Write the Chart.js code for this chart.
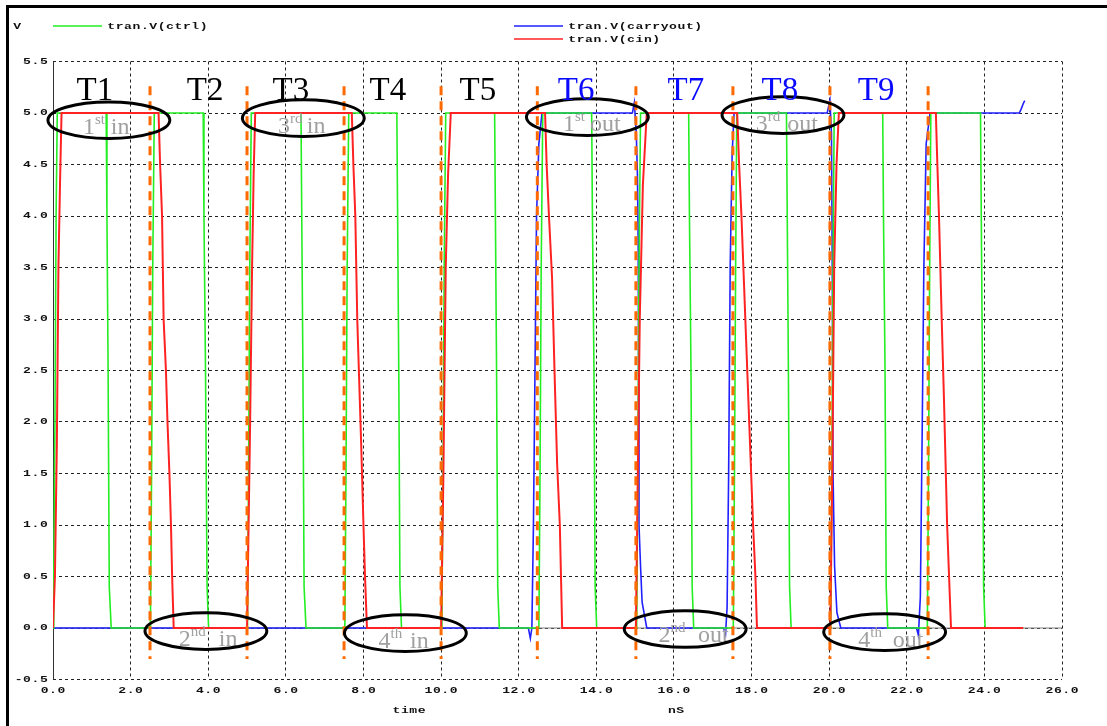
<!DOCTYPE html>
<html>
<head>
<meta charset="utf-8">
<script src="https://cdn.jsdelivr.net/npm/chart.js@4.4.1/dist/chart.umd.min.js"></script>
<style>
  html, body { margin: 0; padding: 0; background: #ffffff; }
  canvas { display: block; }
</style>
</head>
<body>
<canvas id="wave" width="1107" height="726"></canvas>
<script>
// ---- axis ticks ----
const xTicks = [0, 2, 4, 6, 8, 10, 12, 14, 16, 18, 20, 22, 24, 26];
const yTicks = [-0.5, 0, 0.5, 1, 1.5, 2, 2.5, 3, 3.5, 4, 4.5, 5, 5.5];
const xTitle = 'time';
const xUnit = 'nS';
const yUnit = 'V';

// ---- transient traces: [time (ns), volts] ----
const ctrlWave = [
  [0, 0], [0.02, 0.5], [0.05, 2.0], [0.08, 4.0], [0.11, 5],
  [1.37, 5], [1.39, 4.0], [1.42, 2.5], [1.45, 0.4], [1.5, 0],
  [2.51, 0], [2.54, 1.5], [2.57, 3.5], [2.61, 5],
  [3.87, 5], [3.89, 4.0], [3.93, 2.5], [3.97, 0.4], [4.01, 0],
  [5.01, 0], [5.04, 1.5], [5.07, 3.5], [5.11, 5],
  [6.39, 5], [6.41, 4.0], [6.44, 2.5], [6.47, 0.4], [6.52, 0],
  [7.52, 0], [7.55, 1.5], [7.58, 3.5], [7.62, 5],
  [8.86, 5], [8.88, 4.0], [8.91, 2.5], [8.94, 0.4], [8.98, 0],
  [10.02, 0], [10.05, 1.5], [10.08, 3.5], [10.12, 5],
  [11.38, 5], [11.4, 4.0], [11.43, 2.5], [11.46, 0.4], [11.5, 0],
  [12.52, 0], [12.55, 1.5], [12.58, 3.5], [12.62, 5],
  [13.88, 5], [13.9, 4.0], [13.94, 2.5], [13.97, 0.4], [14.01, 0],
  [15.04, 0], [15.07, 1.5], [15.1, 3.5], [15.14, 5],
  [16.38, 5], [16.4, 4.0], [16.44, 2.5], [16.47, 0.4], [16.51, 0],
  [17.53, 0], [17.56, 1.5], [17.59, 3.5], [17.62, 5],
  [18.9, 5], [18.92, 4.0], [18.95, 2.5], [18.98, 0.4], [19.02, 0],
  [20.04, 0], [20.07, 1.5], [20.1, 3.5], [20.13, 5],
  [21.38, 5], [21.4, 4.0], [21.44, 2.5], [21.47, 0.4], [21.51, 0],
  [22.53, 0], [22.56, 1.5], [22.59, 3.5], [22.62, 5],
  [23.9, 5], [23.92, 4.0], [23.95, 2.5], [23.98, 0.4], [24.02, 0],
  [25.0, 0]
];

const carryoutWave = [
  [0, 0], [12.25, 0], [12.3, -0.1], [12.34, 0], [12.38, 1.0], [12.42, 2.5], [12.46, 4.0], [12.52, 4.7], [12.6, 5],
  [14.93, 5], [14.98, 5.1], [15.03, 4.8], [15.06, 4.4], [15.08, 3.7], [15.1, 1.0], [15.14, 0.6], [15.18, 0.25], [15.3, 0],
  [17.28, 0], [17.33, -0.06], [17.37, 0.2], [17.41, 1.5], [17.45, 3.5], [17.5, 4.6], [17.55, 5],
  [19.95, 5], [20.02, 5.12], [20.06, 4.8], [20.08, 3.5], [20.1, 1.5], [20.14, 0.6], [20.2, 0.15], [20.3, 0],
  [22.25, 0], [22.3, -0.07], [22.35, 0.3], [22.4, 2.0], [22.44, 3.5], [22.5, 4.7], [22.6, 5],
  [24.9, 5], [24.95, 5.04], [25.0, 5.09], [25.04, 5.12]
];

const cinWave = [
  [0, 0], [0.05, 0.5], [0.1, 1.8], [0.14, 3.5], [0.18, 4.3], [0.22, 5],
  [2.72, 5], [2.76, 4.5], [2.81, 4.0], [2.85, 3.0], [2.91, 2.5], [2.95, 2.0], [3.0, 1.5], [3.04, 1.0], [3.07, 0.5], [3.11, 0],
  [5.0, 0], [5.08, 2.0], [5.13, 3.5], [5.17, 4.4], [5.21, 5],
  [7.7, 5], [7.74, 4.5], [7.79, 4.0], [7.84, 3.0], [7.89, 2.4], [7.94, 1.8], [8.0, 1.0], [8.04, 0.5], [8.09, 0],
  [10.0, 0], [10.06, 1.5], [10.12, 3.5], [10.18, 4.4], [10.25, 5],
  [12.68, 5], [12.72, 4.5], [12.78, 4.0], [12.86, 3.4], [12.93, 2.4], [12.99, 1.6], [13.06, 1.0], [13.09, 0.5], [13.12, 0],
  [15.02, 0], [15.06, 1.2], [15.12, 3.0], [15.2, 4.3], [15.3, 5],
  [17.63, 5], [17.68, 4.5], [17.74, 4.0], [17.8, 3.4], [17.88, 2.6], [17.96, 1.8], [18.04, 1.0], [18.1, 0.5], [18.14, 0],
  [20.03, 0], [20.08, 1.5], [20.13, 3.5], [20.19, 4.5], [20.25, 5],
  [22.75, 5], [22.78, 4.6], [22.83, 4.0], [22.9, 3.0], [22.96, 2.2], [23.0, 1.6], [23.04, 1.0], [23.09, 0.5], [23.14, 0],
  [25.0, 0]
];

const seriesNames = ['tran.V(ctrl)', 'tran.V(carryout)', 'tran.V(cin)'];

// ---- step markers and labels ----
const stepMarks = [2.5, 5.0, 7.5, 10.0, 12.48, 15.02, 17.52, 20.02, 22.55];
const stepLabels = ['T1', 'T2', 'T3', 'T4', 'T5', 'T6', 'T7', 'T8', 'T9'];
const ordinalLabels = [
  ['1', 'st', 'in'], ['2', 'nd', 'in'], ['3', 'rd', 'in'], ['4', 'th', 'in'],
  ['1', 'st', 'out'], ['2', 'nd', 'out'], ['3', 'rd', 'out'], ['4', 'th', 'out']
];

// ---- placement of the annotations (data units) ----
const layoutCfg = {
  stepLabelX: [1.08, 3.92, 6.13, 8.63, 10.95, 13.48, 16.31, 18.73, 21.21],
  stepLabelY: 5.13,
  stepLabelColor: ['#000000', '#000000', '#000000', '#000000', '#000000', '#0a0aff', '#0a0aff', '#0a0aff', '#0a0aff'],
  markTop: 5.26,
  markBottom: -0.3,
  ellipses: [
    { cx: 1.44, cy: 4.93 }, { cx: 3.94, cy: -0.03 }, { cx: 6.45, cy: 4.95 }, { cx: 9.08, cy: -0.05 },
    { cx: 13.77, cy: 4.96 }, { cx: 16.29, cy: -0.01 }, { cx: 18.81, cy: 4.98 }, { cx: 21.43, cy: -0.04 }
  ],
  ellipseRx: 1.57,
  ellipseRy: 0.178,
  ordinalPos: [
    { x: 0.77, wx: 1.49, y: 4.80 }, { x: 3.24, wx: 4.27, y: -0.17 }, { x: 5.80, wx: 6.54, y: 4.81 }, { x: 8.39, wx: 9.20, y: -0.19 },
    { x: 13.14, wx: 13.84, y: 4.83 }, { x: 15.60, wx: 16.62, y: -0.14 }, { x: 18.11, wx: 18.92, y: 4.83 }, { x: 20.75, wx: 21.64, y: -0.18 }
  ]
};

const toPoints = arr => arr.map(p => ({ x: p[0], y: p[1] }));
const zeroLine = [[0, 0], [26, 0]];

// PSpice-style wide monospace text, drawn one glyph per cell
function monoText(ctx, str, x, y, align) {
  const pitch = 8.4;
  const w = str.length * pitch;
  let x0 = x;
  if (align === 'center') x0 = x - w / 2;
  else if (align === 'right') x0 = x - w;
  ctx.save();
  ctx.font = 'bold 9px "Liberation Mono"';
  ctx.textAlign = 'center';
  ctx.textBaseline = 'middle';
  for (let i = 0; i < str.length; i++) {
    ctx.save();
    ctx.translate(x0 + pitch * (i + 0.5), y);
    ctx.scale(1.45, 1);
    ctx.fillText(str[i], 0, 0);
    ctx.restore();
  }
  ctx.restore();
}

const crisp = v => Math.floor(v) + 0.5;

const probePlugin = {
  id: 'probe',
  beforeDatasetsDraw(chart) {
    const { ctx, chartArea: a, scales: { x, y } } = chart;
    ctx.save();
    ctx.strokeStyle = '#222';
    ctx.lineWidth = 1;
    ctx.setLineDash([3, 3]);
    yTicks.forEach(v => {
      const py = crisp(y.getPixelForValue(v));
      ctx.beginPath(); ctx.moveTo(a.left, py); ctx.lineTo(a.right, py); ctx.stroke();
    });
    xTicks.forEach(t => {
      if (t === xTicks[0]) return;
      const px = crisp(x.getPixelForValue(t));
      ctx.beginPath(); ctx.moveTo(px, a.top); ctx.lineTo(px, a.bottom); ctx.stroke();
    });
    ctx.setLineDash([]);
    ctx.strokeStyle = '#333';
    const lx = crisp(a.left);
    ctx.beginPath(); ctx.moveTo(lx, a.top); ctx.lineTo(lx, a.bottom); ctx.stroke();
    ctx.restore();
  },
  afterDatasetsDraw(chart) {
    const { ctx, scales: { x, y } } = chart;
    const L = layoutCfg;
    ctx.save();
    // step markers
    ctx.strokeStyle = '#ff6a00';
    ctx.lineWidth = 3;
    ctx.setLineDash([9, 6]);
    stepMarks.forEach(t => {
      const px = x.getPixelForValue(t);
      ctx.beginPath();
      ctx.moveTo(px, y.getPixelForValue(L.markTop));
      ctx.lineTo(px, y.getPixelForValue(L.markBottom));
      ctx.stroke();
    });
    ctx.setLineDash([]);
    // ordinal captions
    ordinalLabels.forEach((lab, i) => {
      const p = L.ordinalPos[i];
      const px = x.getPixelForValue(p.x), wx = x.getPixelForValue(p.wx), py = y.getPixelForValue(p.y);
      ctx.fillStyle = '#a0a0a0';
      ctx.textAlign = 'left';
      ctx.textBaseline = 'alphabetic';
      ctx.font = '24px "Liberation Serif"';
      ctx.fillText(lab[0], px, py);
      const dw = ctx.measureText(lab[0]).width;
      ctx.font = '15px "Liberation Serif"';
      ctx.fillText(lab[1], px + dw, py - 10);
      ctx.font = '24px "Liberation Serif"';
      ctx.fillText(lab[2], wx, py);
    });
    // ellipses
    ctx.strokeStyle = '#000';
    ctx.lineWidth = 3;
    L.ellipses.forEach(e => {
      const cx = x.getPixelForValue(e.cx), cy = y.getPixelForValue(e.cy);
      const rx = x.getPixelForValue(e.cx + L.ellipseRx) - cx;
      const ry = cy - y.getPixelForValue(e.cy + L.ellipseRy);
      ctx.beginPath();
      ctx.ellipse(cx, cy, rx, ry, 0, 0, Math.PI * 2);
      ctx.stroke();
    });
    // step labels
    ctx.font = '33px "Liberation Serif"';
    ctx.textAlign = 'center';
    ctx.textBaseline = 'alphabetic';
    stepLabels.forEach((s, i) => {
      ctx.fillStyle = L.stepLabelColor[i];
      ctx.fillText(s, x.getPixelForValue(L.stepLabelX[i]), y.getPixelForValue(L.stepLabelY));
    });
    ctx.restore();
  },
  afterDraw(chart) {
    const { ctx, chartArea: a, scales: { x, y } } = chart;
    ctx.save();
    ctx.fillStyle = '#111';
    // tick labels
    yTicks.forEach(v => {
      monoText(ctx, v.toFixed(1), a.left - 5, y.getPixelForValue(v), 'right');
    });
    xTicks.forEach(t => {
      monoText(ctx, t.toFixed(1), x.getPixelForValue(t), a.bottom + 11, 'center');
    });
    monoText(ctx, xTitle, 409, 711, 'center');
    monoText(ctx, xUnit, 676, 711, 'center');
    monoText(ctx, yUnit, 13, 27, 'left');
    // legend
    const ds = chart.data.datasets;
    const legendRows = [
      { i: 0, x: 53, y: 26 },
      { i: 1, x: 514, y: 26 },
      { i: 2, x: 514, y: 39 }
    ];
    legendRows.forEach(r => {
      ctx.strokeStyle = ds[r.i].borderColor;
      ctx.lineWidth = 1.5;
      ctx.beginPath(); ctx.moveTo(r.x, r.y); ctx.lineTo(r.x + 49, r.y); ctx.stroke();
      ctx.fillStyle = '#111';
      monoText(ctx, ds[r.i].label, r.x + 54, r.y + 1, 'left');
    });
    // outer frame
    ctx.fillStyle = '#000';
    ctx.fillRect(6, 5, 1101, 3);
    ctx.fillRect(6, 5, 3, 721);
    ctx.restore();
  }
};

const lineStyle = { showLine: true, pointRadius: 0, borderWidth: 2, tension: 0, fill: false };

new Chart(document.getElementById('wave'), {
  type: 'scatter',
  data: {
    datasets: [
      Object.assign({ label: seriesNames[0], data: toPoints(ctrlWave), borderColor: '#22ee22', order: 1 }, lineStyle, { borderWidth: 1.6 }),
      Object.assign({ label: seriesNames[1], data: toPoints(carryoutWave), borderColor: '#2020ff', order: 2 }, lineStyle, { borderWidth: 1.6 }),
      Object.assign({ label: seriesNames[2], data: toPoints(cinWave), borderColor: '#ff2222', order: 0 }, lineStyle),
      Object.assign({ label: 'zero', data: toPoints(zeroLine), borderColor: '#808080', order: 3 }, lineStyle, { borderWidth: 1 })
    ]
  },
  options: {
    responsive: false,
    animation: false,
    devicePixelRatio: 1,
    layout: { padding: { left: 0, right: 45, top: 61.5, bottom: 0 } },
    plugins: { legend: { display: false }, tooltip: { enabled: false } },
    scales: {
      x: {
        type: 'linear', min: 0, max: 26,
        ticks: { display: false }, grid: { display: false }, border: { display: false },
        afterFit(s) { s.height = 46.5; }
      },
      y: {
        type: 'linear', min: -0.5, max: 5.5,
        ticks: { display: false }, grid: { display: false }, border: { display: false },
        afterFit(s) { s.width = 53; }
      }
    }
  },
  plugins: [probePlugin]
});
</script>
</body>
</html>
